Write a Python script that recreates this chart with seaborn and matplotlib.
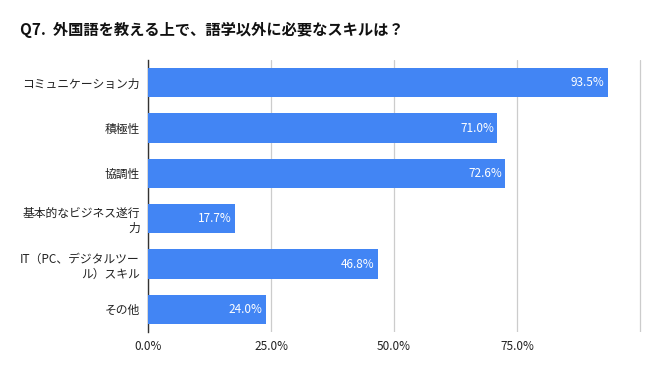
import matplotlib
matplotlib.use('Agg')
import matplotlib.pyplot as plt
import seaborn as sns
import pandas as pd
from matplotlib.ticker import FuncFormatter

skills = ['コミュニケーション力', '積極性', '協調性', '基本的なビジネス遂行\n力',
          'IT（PC、デジタルツー\nル）スキル', 'その他']
percent = [93.5, 71.0, 72.6, 17.7, 46.8, 24.0]
xticks = [0, 25, 50, 75, 100]
title = 'Q7.  外国語を教える上で、語学以外に必要なスキルは？'

df = pd.DataFrame({'skill': skills, 'percent': percent})

sns.set_style('white')
plt.rcParams['font.family'] = ['Noto Sans CJK JP', 'DejaVu Sans']

fig = plt.figure(figsize=(6.58, 3.71), dpi=100)
ax = fig.add_axes([148 / 658, 1 - 332 / 371, 494 / 658, 272 / 371])

sns.barplot(data=df, x='percent', y='skill', color='#4285F4', saturation=1,
            width=0.64, linewidth=0, ax=ax, zorder=3)

ax.set_xlim(0, 100.4)
ax.set_xticks(xticks)
ax.xaxis.set_major_formatter(FuncFormatter(lambda v, p: f'{v:.1f}%' if v < 100 else ''))
ax.grid(axis='x', color='#cccccc', linewidth=0.9, zorder=0)
ax.set_xlabel('')
ax.set_ylabel('')
for s in ['top', 'right', 'bottom']:
    ax.spines[s].set_visible(False)
ax.spines['left'].set_color('#333333')
ax.spines['left'].set_linewidth(1.0)
ax.tick_params(axis='y', length=0, labelsize=8.5, colors='#222222', pad=6)
ax.tick_params(axis='x', length=0, labelsize=8.5, colors='#222222', pad=6)

for i, v in enumerate(percent):
    ax.text(v - 0.7, i, f'{v:.1f}%', color='white', fontsize=8.5,
            ha='right', va='center', zorder=4)

fig.text(20 / 658, 1 - 30 / 371, title, fontsize=11, fontweight='bold',
         color='#111111', va='center', ha='left')

fig.savefig('out.png', dpi=100)
